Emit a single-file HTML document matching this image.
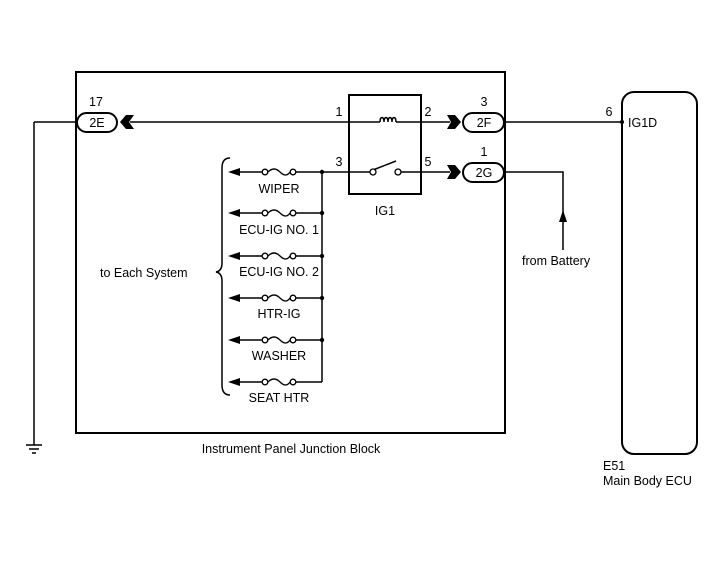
<!DOCTYPE html>
<html><head><style>
body{margin:0;background:#fff;}
svg{display:block;font-family:"Liberation Sans",Arial,sans-serif;}
</style></head><body>
<svg width="713" height="581" viewBox="0 0 713 581" xmlns="http://www.w3.org/2000/svg">
<g fill="none" stroke="#000" stroke-width="2">
<rect x="76" y="72" width="429" height="361"/>
<rect x="349" y="95" width="72" height="99"/>
<rect x="622" y="92" width="75" height="362" rx="12"/>
</g>
<g stroke="#000" stroke-width="1.5" fill="none">
<line x1="34" y1="122" x2="76" y2="122"/>
<line x1="34" y1="122" x2="34" y2="445"/>
<line x1="26" y1="445" x2="42" y2="445"/>
<line x1="29" y1="449" x2="39" y2="449"/>
<line x1="32" y1="453" x2="36" y2="453"/>
<line x1="130" y1="122" x2="380" y2="122"/>
<line x1="396" y1="122" x2="450" y2="122"/>
<line x1="505" y1="122" x2="622" y2="122"/>
<line x1="322" y1="172" x2="372" y2="172"/>
<line x1="373" y1="170" x2="396" y2="161"/>
<line x1="401" y1="172" x2="450" y2="172"/>
<polyline points="505,172 563,172 563,250"/>
<line x1="322" y1="172" x2="322" y2="382"/>
<path d="M230,158 q-8,0 -8,10 v95 q0,8 -6,9 q6,1 6,9 v104 q0,10 8,10"/>
</g>
<path d="M380,122 c0,-6 4,-6 4,0 c0,-6 4,-6 4,0 c0,-6 4,-6 4,0 c0,-6 4,-6 4,0" fill="none" stroke="#000" stroke-width="1.5"/>
<circle cx="373" cy="172" r="3" fill="#fff" stroke="#000" stroke-width="1.3"/>
<circle cx="398" cy="172" r="3" fill="#fff" stroke="#000" stroke-width="1.3"/>
<g fill="#fff" stroke="#000" stroke-width="2">
<rect x="77" y="113" width="40" height="19" rx="9.5"/>
<rect x="463" y="113" width="41" height="19" rx="9.5"/>
<rect x="463" y="163" width="41" height="19" rx="9.5"/>
</g>
<g fill="#000">
<polygon points="120,122 126,115 134,115 129,122 134,129 126,129"/>
<polygon points="447,115 455,115 461,122 455,129 447,129 451,122"/>
<polygon points="447,165 455,165 461,172 455,179 447,179 451,172"/>
<polygon points="563,210 559,222 567,222"/>
<circle cx="622" cy="122" r="2"/>
<circle cx="322" cy="172" r="2.2"/>
<circle cx="322" cy="213" r="2.2"/>
<circle cx="322" cy="256" r="2.2"/>
<circle cx="322" cy="298" r="2.2"/>
<circle cx="322" cy="340" r="2.2"/>
</g>
<g stroke="#000" stroke-width="1.5" fill="none">
<line x1="232" y1="172" x2="262" y2="172"/><line x1="296" y1="172" x2="322" y2="172"/>
<line x1="232" y1="213" x2="262" y2="213"/><line x1="296" y1="213" x2="322" y2="213"/>
<line x1="232" y1="256" x2="262" y2="256"/><line x1="296" y1="256" x2="322" y2="256"/>
<line x1="232" y1="298" x2="262" y2="298"/><line x1="296" y1="298" x2="322" y2="298"/>
<line x1="232" y1="340" x2="262" y2="340"/><line x1="296" y1="340" x2="322" y2="340"/>
<line x1="232" y1="382" x2="262" y2="382"/><line x1="296" y1="382" x2="322" y2="382"/>
</g>
<g fill="none" stroke="#000" stroke-width="1.3">
<g id="f"><circle cx="265" cy="172" r="2.8"/><circle cx="293" cy="172" r="2.8"/><path d="M268,172 q6,-6 12,0 q6,6 10,0"/></g>
<use href="#f" y="41"/><use href="#f" y="84"/><use href="#f" y="126"/><use href="#f" y="168"/><use href="#f" y="210"/>
</g>
<g fill="#000">
<polygon points="228,172 240,168 240,176"/>
<polygon points="228,213 240,209 240,217"/>
<polygon points="228,256 240,252 240,260"/>
<polygon points="228,298 240,294 240,302"/>
<polygon points="228,340 240,336 240,344"/>
<polygon points="228,382 240,378 240,386"/>
</g>
<g font-size="12.5" fill="#000">
<text x="97" y="127" text-anchor="middle">2E</text>
<text x="484" y="127" text-anchor="middle">2F</text>
<text x="484" y="177" text-anchor="middle">2G</text>
<text x="96" y="106" text-anchor="middle">17</text>
<text x="484" y="106" text-anchor="middle">3</text>
<text x="484" y="156" text-anchor="middle">1</text>
<text x="339" y="116" text-anchor="middle">1</text>
<text x="428" y="116" text-anchor="middle">2</text>
<text x="339" y="166" text-anchor="middle">3</text>
<text x="428" y="166" text-anchor="middle">5</text>
<text x="609" y="116" text-anchor="middle">6</text>
<text x="628" y="127">IG1D</text>
<text x="385" y="215" text-anchor="middle">IG1</text>
<text x="279" y="193" text-anchor="middle">WIPER</text>
<text x="279" y="234" text-anchor="middle">ECU-IG NO. 1</text>
<text x="279" y="276" text-anchor="middle">ECU-IG NO. 2</text>
<text x="279" y="318" text-anchor="middle">HTR-IG</text>
<text x="279" y="360" text-anchor="middle">WASHER</text>
<text x="279" y="402" text-anchor="middle">SEAT HTR</text>
<text x="100" y="277">to Each System</text>
<text x="522" y="265">from Battery</text>
<text x="291" y="453" text-anchor="middle">Instrument Panel Junction Block</text>
<text x="603" y="470">E51</text>
<text x="603" y="485">Main Body ECU</text>
</g>
</svg>
</body></html>
